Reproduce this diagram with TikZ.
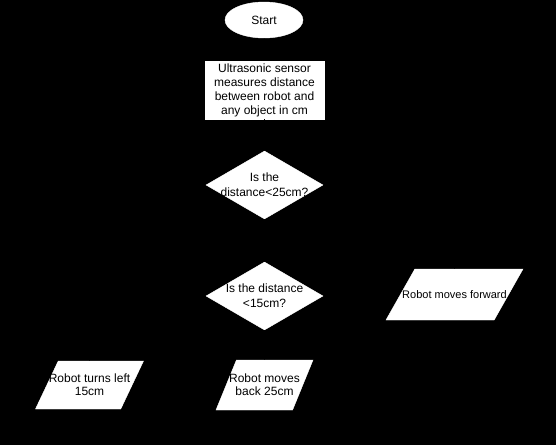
\documentclass[tikz,border=0pt]{standalone}
\usepackage{fontspec}
\setmainfont{Liberation Sans}
\usepackage{tikz}
\usetikzlibrary{shapes,arrows}
\usetikzlibrary{calc}

\tikzset{
	box/.style={draw=white,fill=white,inner sep=0pt,font=\fontsize{12}{14}\selectfont,align=center},
	io/.style={trapezium,trapezium left angle=70,trapezium right angle=110,trapezium stretches=true,draw=white,fill=white,inner sep=1pt},
	txt/.style={font=\fontsize{12}{13}\selectfont,align=center,text=black},
	flow/.style={->,>=stealth,black}
}

\begin{document}
\begin{tikzpicture}[x=1pt,y=-1pt]
	\fill[black] (0,0) rectangle (556,445);
	
	\node[box,ellipse,minimum width=78pt,minimum height=36pt] (start) at (264,20) {Start};
	\node[box,rectangle,minimum width=119pt,minimum height=58pt] (sense) at (264.5,90) {Ultrasonic sensor\\measures distance\\between robot and\\any object in cm};
	
	\node[box,diamond,minimum width=117pt,minimum height=68pt,label={[txt,font=\fontsize{12}{15}\selectfont]center:Is the\\distance<25cm?}] (ask25) at (264.5,185) {};
	\node[box,diamond,minimum width=117pt,minimum height=68pt,label={[txt,font=\fontsize{12}{15}\selectfont]center:Is the distance\\<15cm?}] (ask15) at (264.5,296) {};
	
	\node[io,minimum width=137pt,minimum height=51pt,label={[txt,font=\fontsize{11}{13}\selectfont]center:Robot moves forward}] (fwd) at (454.5,294.5) {};
	\node[io,minimum width=108pt,minimum height=48pt,label={[txt]center:Robot turns left\\15cm}] (turn) at (89.5,385) {};
	\node[io,minimum width=97pt,minimum height=50pt,label={[txt]center:Robot moves\\back 25cm}] (back) at (264.5,385) {};
	
	% connectors, drawn in black as in the original
	\draw[flow] (start) -- (sense);
	\draw[flow] (sense) -- (ask25);
	\draw[flow] (ask25) -- (ask15);
	\draw[flow] (ask25.east) -| (fwd);
	\draw[flow] (ask15) -- (back);
	\draw[flow] (ask15.west) -| (turn);
\end{tikzpicture}
\end{document}
